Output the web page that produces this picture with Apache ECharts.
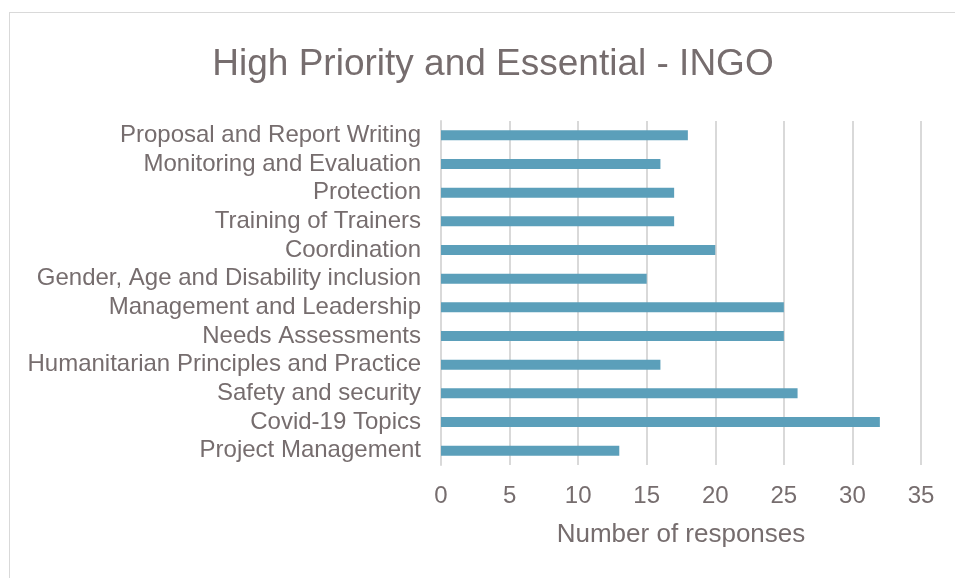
<!DOCTYPE html>
<html>
<head>
<meta charset="utf-8">
<script src="https://cdn.jsdelivr.net/npm/echarts@6/dist/echarts.min.js"></script>
<style>
html,body{margin:0;padding:0;background:#fff;}
#frame{position:absolute;left:9px;top:12px;width:1000px;height:600px;border:1px solid #d9d9d9;box-sizing:border-box;}
#chart{position:absolute;left:0;top:0;width:955px;height:578px;}
</style>
</head>
<body>
<div id="frame"></div>
<div id="chart"></div>
<script>
const titleText = "High Priority and Essential - INGO";
const categories = [
  "Project Management",
  "Covid-19 Topics",
  "Safety and security",
  "Humanitarian Principles and Practice",
  "Needs Assessments",
  "Management and Leadership",
  "Gender, Age and Disability inclusion",
  "Coordination",
  "Training of Trainers",
  "Protection",
  "Monitoring and Evaluation",
  "Proposal and Report Writing"
];
const responses = [13, 32, 26, 16, 25, 25, 15, 20, 17, 17, 16, 18];
const axisName = "Number of responses";
const xMin = 0, xMax = 35, xInterval = 5;

const textColor = "#766d6e";
const font = "Liberation Sans";
const chart = echarts.init(document.getElementById('chart'), null, {renderer: 'canvas'});
chart.setOption({
  animation: false,
  backgroundColor: 'transparent',
  title: {
    text: titleText,
    left: 488, top: 41, textAlign: 'center',
    textStyle: {fontFamily: font, fontSize: 37, fontWeight: 'normal', color: textColor}
  },
  grid: {left: 441, right: 34, top: 121, bottom: 113, containLabel: false},
  xAxis: {
    type: 'value', min: xMin, max: xMax, interval: xInterval,
    name: axisName, nameLocation: 'middle', nameGap: 57,
    nameTextStyle: {fontFamily: font, fontSize: 26, color: textColor},
    axisLine: {show: false}, axisTick: {show: false},
    axisLabel: {fontFamily: font, fontSize: 24, color: textColor, margin: 19},
    splitLine: {show: true, lineStyle: {color: '#d9d9d9', width: 2}}
  },
  yAxis: {
    type: 'category', data: categories,
    axisLine: {show: true, lineStyle: {color: '#d9d9d9', width: 2}},
    axisTick: {show: false},
    axisLabel: {fontFamily: font, fontSize: 24, color: textColor, margin: 20, interval: 0}
  },
  series: [{
    type: 'bar', data: responses, barWidth: 10,
    itemStyle: {color: '#5b9fba'}
  }]
});
</script>
</body>
</html>
